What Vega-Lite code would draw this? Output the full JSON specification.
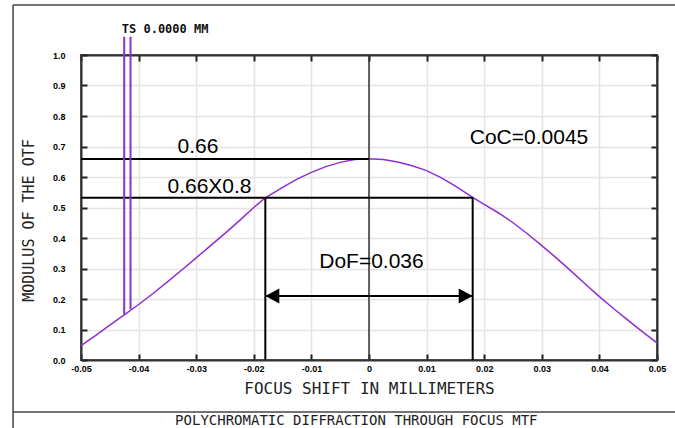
{
  "$schema": "https://vega.github.io/schema/vega-lite/v6.json",
  "width": 576,
  "height": 305,
  "autosize": {"type": "none"},
  "padding": {"left": 81, "top": 55, "right": 18, "bottom": 68},
  "background": "white",
  "config": {"view": {"stroke": "#333", "strokeWidth": 2}},
  "datasets": {
    "mtf": [
      {"x": -0.05, "v": 0.047}, {"x": -0.0475, "v": 0.08}, {"x": -0.045, "v": 0.114}, {"x": -0.0425, "v": 0.148},
      {"x": -0.04, "v": 0.182}, {"x": -0.0375, "v": 0.218}, {"x": -0.035, "v": 0.256}, {"x": -0.0325, "v": 0.295},
      {"x": -0.03, "v": 0.335}, {"x": -0.0275, "v": 0.375}, {"x": -0.025, "v": 0.415}, {"x": -0.0225, "v": 0.457},
      {"x": -0.02, "v": 0.5}, {"x": -0.018, "v": 0.532}, {"x": -0.015, "v": 0.566}, {"x": -0.0125, "v": 0.593},
      {"x": -0.01, "v": 0.615}, {"x": -0.0075, "v": 0.634}, {"x": -0.005, "v": 0.648}, {"x": -0.0025, "v": 0.657},
      {"x": 0, "v": 0.66}, {"x": 0.0025, "v": 0.657}, {"x": 0.005, "v": 0.649}, {"x": 0.0075, "v": 0.637},
      {"x": 0.01, "v": 0.621}, {"x": 0.0125, "v": 0.598}, {"x": 0.015, "v": 0.57}, {"x": 0.018, "v": 0.533},
      {"x": 0.02, "v": 0.51}, {"x": 0.0225, "v": 0.482}, {"x": 0.025, "v": 0.45}, {"x": 0.0275, "v": 0.414},
      {"x": 0.03, "v": 0.375}, {"x": 0.0325, "v": 0.335}, {"x": 0.035, "v": 0.293}, {"x": 0.0375, "v": 0.25},
      {"x": 0.04, "v": 0.208}, {"x": 0.0425, "v": 0.168}, {"x": 0.045, "v": 0.13}, {"x": 0.0475, "v": 0.092},
      {"x": 0.05, "v": 0.056}
    ],
    "frame": [
      {"x": -0.0618, "x2": 0.07, "y": 1.164, "y2": 1.164},
      {"x": -0.0618, "x2": -0.0618, "y": 1.164, "y2": -0.3},
      {"x": -0.0618, "x2": 0.07, "y": -0.1705, "y2": -0.1705}
    ],
    "guides": [
      {"x": -0.05, "x2": 0, "y": 0.659, "y2": 0.659},
      {"x": -0.05, "x2": 0.018, "y": 0.532, "y2": 0.532},
      {"x": -0.018, "x2": -0.018, "y": 0, "y2": 0.532},
      {"x": 0.018, "x2": 0.018, "y": 0, "y2": 0.532},
      {"x": -0.018, "x2": 0.018, "y": 0.21, "y2": 0.21}
    ],
    "markers": [
      {"x": -0.0425, "y": 0.15, "y2": 1.06},
      {"x": -0.0414, "y": 0.166, "y2": 1.06}
    ],
    "heads": [
      {"x": -0.018, "y": 0.21, "dir": "left"},
      {"x": 0.018, "y": 0.21, "dir": "right"}
    ],
    "notes": [
      {"x": -0.02969, "y": 0.6777, "t": "0.66"},
      {"x": -0.02769, "y": 0.5485, "t": "0.66X0.8"},
      {"x": 0.00043, "y": 0.3026, "t": "DoF=0.036"},
      {"x": 0.02778, "y": 0.7072, "t": "CoC=0.0045"}
    ],
    "captions": [
      {"x": -0.0354, "y": 1.086, "t": "TS 0.0000 MM", "k": "ts"},
      {"x": -0.0022, "y": -0.1984, "t": "POLYCHROMATIC DIFFRACTION THROUGH FOCUS MTF", "k": "title"}
    ]
  },
  "resolve": {"axis": {"x": "independent", "y": "independent"}},
  "layer": [
    {
      "data": {"name": "mtf"},
      "mark": {"type": "line", "color": "#8e2fcf", "strokeWidth": 1.5},
      "encoding": {
        "x": {
          "field": "x", "type": "quantitative",
          "scale": {"domain": [-0.05, 0.05], "nice": false, "zero": false},
          "axis": {
            "orient": "bottom",
            "values": [-0.05, -0.04, -0.03, -0.02, -0.01, 0, 0.01, 0.02, 0.03, 0.04, 0.05],
            "labelExpr": "datum.value == 0 ? '0' : replace(format(datum.value, '.2f'), '−', '-')",
            "grid": true, "gridColor": "#e4e4e4", "gridWidth": 1.5,
            "domainColor": "#333", "domainWidth": 2,
            "tickSize": -6, "tickColor": "#222", "tickWidth": 2,
            "labelFont": "Liberation Sans", "labelFontWeight": "bold", "labelFontSize": 9, "labelColor": "#000",
            "labelPadding": 10, "labelFlush": false,
            "title": "FOCUS SHIFT IN MILLIMETERS",
            "titleFont": "DejaVu Sans Mono", "titleFontWeight": "normal", "titleFontSize": 16, "titleColor": "#222",
            "titlePadding": 7
          }
        },
        "y": {
          "field": "v", "type": "quantitative",
          "scale": {"domain": [0, 1], "nice": false},
          "axis": {
            "orient": "left",
            "values": [0, 0.1, 0.2, 0.3, 0.4, 0.5, 0.6, 0.7, 0.8, 0.9, 1],
            "format": ".1f",
            "grid": true, "gridColor": "#e4e4e4", "gridWidth": 1.5,
            "domainColor": "#333", "domainWidth": 2,
            "tickSize": -6, "tickColor": "#222", "tickWidth": 2,
            "labelFont": "Liberation Sans", "labelFontWeight": "bold", "labelFontSize": 9, "labelColor": "#000",
            "labelPadding": 22, "labelFlush": false,
            "title": "MODULUS OF THE OTF",
            "titleFont": "DejaVu Sans Mono", "titleFontWeight": "normal", "titleFontSize": 15, "titleColor": "#222",
            "titlePadding": 16, "titleY": 165
          }
        }
      }
    },
    {
      "data": {"name": "mtf"},
      "mark": {"type": "point", "opacity": 0},
      "encoding": {
        "x": {
          "field": "x", "type": "quantitative",
          "axis": {
            "orient": "top", "values": [-0.05, -0.04, -0.03, -0.02, -0.01, 0, 0.01, 0.02, 0.03, 0.04, 0.05],
            "labels": false, "grid": false, "title": null,
            "domainColor": "#333", "domainWidth": 2, "tickSize": -6, "tickColor": "#222", "tickWidth": 2
          }
        },
        "y": {
          "field": "v", "type": "quantitative",
          "axis": {
            "orient": "right", "values": [0, 0.1, 0.2, 0.3, 0.4, 0.5, 0.6, 0.7, 0.8, 0.9, 1],
            "labels": false, "grid": false, "title": null,
            "domainColor": "#333", "domainWidth": 2, "tickSize": -6, "tickColor": "#222", "tickWidth": 2
          }
        }
      }
    },
    {
      "data": {"name": "frame"},
      "mark": {"type": "rule", "color": "#444", "strokeWidth": 1.5, "clip": false},
      "encoding": {
        "x": {"field": "x", "type": "quantitative", "axis": null},
        "x2": {"field": "x2"},
        "y": {"field": "y", "type": "quantitative", "axis": null},
        "y2": {"field": "y2"}
      }
    },
    {
      "data": {"values": [{"x": 0, "y": 0, "y2": 1}]},
      "mark": {"type": "rule", "color": "#333", "strokeWidth": 1.5},
      "encoding": {
        "x": {"field": "x", "type": "quantitative", "axis": null},
        "y": {"field": "y", "type": "quantitative", "axis": null},
        "y2": {"field": "y2"}
      }
    },
    {
      "data": {"name": "guides"},
      "mark": {"type": "rule", "color": "#000", "strokeWidth": 2},
      "encoding": {
        "x": {"field": "x", "type": "quantitative", "axis": null},
        "x2": {"field": "x2"},
        "y": {"field": "y", "type": "quantitative", "axis": null},
        "y2": {"field": "y2"}
      }
    },
    {
      "data": {"name": "markers"},
      "mark": {"type": "rule", "color": "#8e2fcf", "strokeWidth": 2, "clip": false},
      "encoding": {
        "x": {"field": "x", "type": "quantitative", "axis": null},
        "y": {"field": "y", "type": "quantitative", "axis": null},
        "y2": {"field": "y2"}
      }
    },
    {
      "data": {"name": "heads"},
      "mark": {"type": "point", "filled": true, "opacity": 1, "size": 196, "color": "#000", "strokeWidth": 0},
      "encoding": {
        "x": {"field": "x", "type": "quantitative", "axis": null},
        "y": {"field": "y", "type": "quantitative", "axis": null},
        "shape": {
          "field": "dir", "type": "nominal", "legend": null,
          "scale": {"domain": ["left", "right"], "range": ["M0,0L2,-1.07L2,1.07Z", "M0,0L-2,-1.07L-2,1.07Z"]}
        }
      }
    },
    {
      "data": {"name": "notes"},
      "mark": {"type": "text", "font": "Liberation Sans", "fontSize": 21, "color": "#000", "align": "center", "baseline": "alphabetic"},
      "encoding": {
        "x": {"field": "x", "type": "quantitative", "axis": null},
        "y": {"field": "y", "type": "quantitative", "axis": null},
        "text": {"field": "t"}
      }
    },
    {
      "data": {"name": "captions"},
      "transform": [{"filter": "datum.k == 'ts'"}],
      "mark": {"type": "text", "font": "DejaVu Sans Mono", "fontWeight": "bold", "fontSize": 12, "color": "#111", "align": "center", "baseline": "middle", "clip": false},
      "encoding": {
        "x": {"field": "x", "type": "quantitative", "axis": null},
        "y": {"field": "y", "type": "quantitative", "axis": null},
        "text": {"field": "t"}
      }
    },
    {
      "data": {"name": "captions"},
      "transform": [{"filter": "datum.k == 'title'"}],
      "mark": {"type": "text", "font": "DejaVu Sans Mono", "fontWeight": "normal", "fontSize": 14, "color": "#222", "align": "center", "baseline": "middle", "clip": false},
      "encoding": {
        "x": {"field": "x", "type": "quantitative", "axis": null},
        "y": {"field": "y", "type": "quantitative", "axis": null},
        "text": {"field": "t"}
      }
    }
  ]
}
